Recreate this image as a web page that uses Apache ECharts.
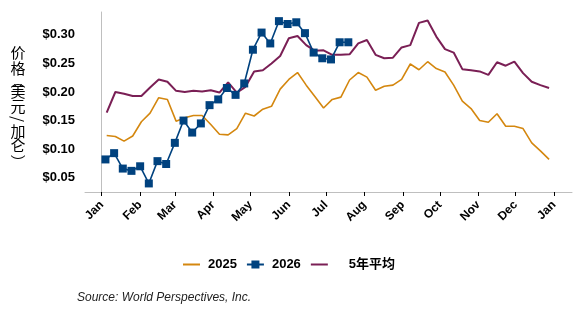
<!DOCTYPE html>
<html>
<head>
<meta charset="utf-8">
<script src="https://cdn.jsdelivr.net/npm/echarts@6/dist/echarts.min.js"></script>
<style>
  html, body { margin: 0; padding: 0; background: #fff; }
  #main { width: 578px; height: 317px; }
</style>
</head>
<body>
<div id="main"></div>
<script>
// 月初（一年中的第几天）和月份标签
var monthDays = [0, 31, 59, 90, 120, 151, 181, 212, 243, 273, 304, 334, 365];
var monthNames = ['Jan', 'Feb', 'Mar', 'Apr', 'May', 'Jun', 'Jul', 'Aug', 'Sep', 'Oct', 'Nov', 'Dec', 'Jan'];
var yTicks = [0.05, 0.10, 0.15, 0.20, 0.25, 0.30];

// 每周数据
var firstDay2025 = 4;   // 2025 与 5年平均 的第一周
var firstDay2026 = 3;   // 2026 的第一周
var price2025 = [0.124, 0.122, 0.114, 0.123, 0.148, 0.163, 0.190, 0.187, 0.149, 0.155,
                 0.159, 0.159, 0.143, 0.126, 0.125, 0.136, 0.163, 0.158, 0.170, 0.175,
                 0.205, 0.222, 0.234, 0.212, 0.192, 0.172, 0.187, 0.191, 0.221, 0.234,
                 0.226, 0.203, 0.210, 0.212, 0.222, 0.249, 0.239, 0.253, 0.241, 0.235,
                 0.212, 0.184, 0.171, 0.150, 0.147, 0.162, 0.140, 0.140, 0.136, 0.111,
                 0.097, 0.082];
var price2026 = [0.082, 0.093, 0.066, 0.062, 0.070, 0.040, 0.079, 0.074, 0.111, 0.150,
                 0.129, 0.145, 0.177, 0.187, 0.207, 0.195, 0.215, 0.274, 0.304, 0.285,
                 0.324, 0.319, 0.322, 0.303, 0.269, 0.259, 0.257, 0.287, 0.287];
var avg5yr = [0.164, 0.200, 0.197, 0.193, 0.193, 0.208, 0.222, 0.218, 0.202, 0.200,
              0.202, 0.201, 0.203, 0.199, 0.217, 0.199, 0.209, 0.236, 0.238, 0.250,
              0.263, 0.294, 0.298, 0.282, 0.272, 0.273, 0.265, 0.265, 0.266, 0.285,
              0.291, 0.265, 0.259, 0.260, 0.278, 0.282, 0.321, 0.325, 0.297, 0.275,
              0.269, 0.240, 0.238, 0.236, 0.230, 0.252, 0.246, 0.253, 0.233, 0.218,
              0.212, 0.207];

function weekly(first, values) {
  return values.map(function (v, i) { return [first + 7 * i, v]; });
}

var chart = echarts.init(document.getElementById('main'), null, { renderer: 'canvas' });

var latin = "'Liberation Sans', Arial, 'Noto Sans CJK SC', sans-serif";
var cjk = "'Noto Sans CJK SC', sans-serif";

// 竖排的 y 轴标题
var yName = [
  { t: '价', y: 52.5, r: 0 },
  { t: '格', y: 68, r: 0 },
  { t: '︵', y: 80, r: 0 },
  { t: '美', y: 91.7, r: 0 },
  { t: '元', y: 106.7, r: 0 },
  { t: '/', y: 119, r: -Math.PI / 2 },
  { t: '加', y: 131, r: 0 },
  { t: '仑', y: 145, r: 0 },
  { t: '︶', y: 162, r: 0 }
];
var graphics = yName.map(function (c) {
  return {
    type: 'group', x: 18, y: c.y, rotation: c.r,
    children: [{
      type: 'text', x: 0, y: 0,
      style: { text: c.t, font: '15px ' + cjk, fill: '#000', align: 'center', verticalAlign: 'middle' }
    }]
  };
});
graphics.push({
  type: 'text', left: 77, top: 292,
  style: { text: 'Source: World Perspectives, Inc.', font: 'italic 12px ' + latin, fill: '#222' }
});

var plainLine = { opacity: 0 };

var option = {
  animation: false,
  backgroundColor: '#fff',
  grid: { left: 85, right: 6, top: 12, bottom: 125 },
  legend: {
    left: 182, top: 258, padding: 0,
    itemWidth: 17, itemHeight: 10, itemGap: 9,
    data: [
      { name: '2025', itemStyle: plainLine },
      { name: '2026' },
      { name: '5年平均', itemStyle: plainLine }
    ],
    textStyle: { fontFamily: latin, fontSize: 13, fontWeight: 'bold', color: '#000', padding: [0, 0, 0, 3],
      rich: { cjk: { fontFamily: latin, fontSize: 13, fontWeight: 'bold', color: '#000', padding: [0, 0, 0, 13] } } },
    formatter: function (name) {
      return name === '5年平均' ? '{cjk|' + name + '}' : name;
    }
  },
  xAxis: {
    type: 'value', min: -13.5, max: 379.5,
    splitLine: { show: false },
    axisLine: { show: true, lineStyle: { color: '#bfbfbf', width: 1 } },
    axisTick: { show: true, customValues: monthDays, length: 4, lineStyle: { color: '#000' } },
    axisLabel: {
      customValues: monthDays, rotate: 45, margin: 11,
      fontFamily: latin, fontSize: 12, fontWeight: 'bold', color: '#000',
      formatter: function (v) { return monthNames[monthDays.indexOf(v)]; }
    }
  },
  yAxis: {
    type: 'value', min: 0.025, max: 0.34,
    splitLine: { show: false },
    axisLine: { show: true, lineStyle: { color: '#bfbfbf', width: 1 } },
    axisTick: { show: false },
    axisLabel: {
      customValues: yTicks, margin: 10,
      fontFamily: latin, fontSize: 13, fontWeight: 'bold', color: '#000',
      formatter: function (v) { return '$' + v.toFixed(2); }
    }
  },
  graphic: graphics,
  series: [
    {
      name: '2025', type: 'line', data: weekly(firstDay2025, price2025),
      symbol: 'none', z: 2,
      lineStyle: { color: '#D4870F', width: 1.6 }, itemStyle: { color: '#D4870F' }
    },
    {
      name: '2026', type: 'line', data: weekly(firstDay2026, price2026),
      symbol: 'rect', symbolSize: 8, showSymbol: true, z: 4,
      lineStyle: { color: '#00427F', width: 1.6 }, itemStyle: { color: '#00427F' }
    },
    {
      name: '5年平均', type: 'line', data: weekly(firstDay2025, avg5yr),
      symbol: 'none', z: 3,
      lineStyle: { color: '#7A1F55', width: 2 }, itemStyle: { color: '#7A1F55' }
    }
  ]
};

chart.setOption(option);
</script>
</body>
</html>
